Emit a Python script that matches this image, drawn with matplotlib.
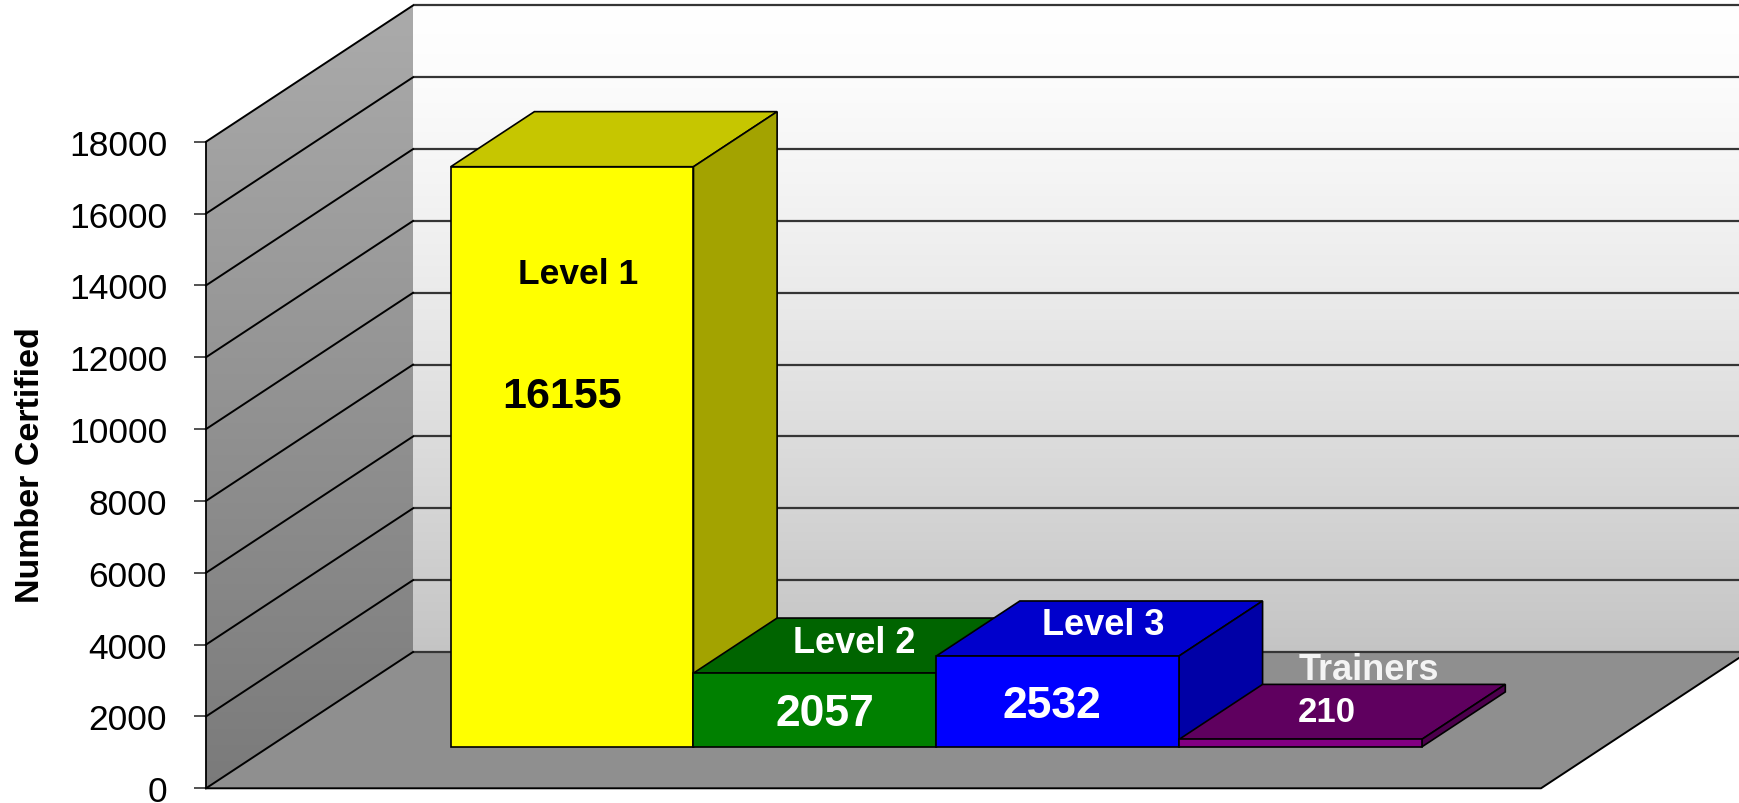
import numpy as np
import matplotlib
matplotlib.use("Agg")
import matplotlib.pyplot as plt
from matplotlib.patches import Polygon

plt.rcParams['font.family'] = ['Liberation Sans', 'DejaVu Sans']

# data
categories = ["Level 1", "Level 2", "Level 3", "Trainers"]
values = [16155, 2057, 2532, 210]
value_labels = ["16155", "2057", "2532", "210"]
yticks = list(range(0, 18001, 2000))

front_colors = ["#ffff00", "#008000", "#0000ff", "#820082"]
top_colors = ["#c6c600", "#006400", "#0000cc", "#5f005f"]
side_colors = ["#a3a300", "#004d00", "#0000a6", "#4c004c"]

# text anchors (x in category units, y in value units, baseline)
name_pos = [(0.2787, 14067), (0.4854, 3795), (0.6719, 4296), (0.8712, 3043)]
value_pos = [(0.2667, 10615), (0.4637, 1762), (0.6337, 1985), (0.8397, 1874)]
name_colors = ["black", "white", "white", "#f4f4f4"]
value_colors = ["black", "white", "white", "white"]
name_sizes = [25.5, 26, 26, 26]
value_sizes = [31, 32, 32, 25]

# projection of the fake 3d box (pixels of the 1739x804 canvas)
W, H = 1739, 804
X0_PX, PX_PER_X = 206, 1335.0
Y0_PX, PX_PER_V = 789.3, 71.84 / 2000
DX = 207 / PX_PER_X          # depth shift in x units
DV = 136.3 / PX_PER_V        # depth shift in value units
VMAX = 18000
d0, d1 = 0.303, 0.707        # bar depth range
gap = 1.5
bw = 1.0 / (len(values) + gap)

fig = plt.figure(figsize=(W / 100, H / 100), dpi=100)
ax = fig.add_axes([0, 0, 1, 1])
ax.set_facecolor("white")

# back wall with gradient
back = Polygon([(DX, DV), (1 + DX, DV), (1 + DX, VMAX + DV), (DX, VMAX + DV)],
               closed=True, facecolor="none", edgecolor="none", transform=ax.transData)
ax.add_patch(back)
t = np.linspace(0, 1, 256)[:, None]
top_c = np.array([1.0, 1.0, 1.0])
bot_c = np.array([0.77, 0.77, 0.77])
grad = (top_c * (1 - t ** 1.3) + bot_c * t ** 1.3)[:, None, :] * np.ones((1, 2, 1))
im = ax.imshow(grad, extent=[DX, 1 + DX, DV, VMAX + DV], origin="upper",
               aspect="auto", zorder=1, interpolation="bilinear")
im.set_clip_path(back)

# side wall with gradient
side = Polygon([(0, 0), (DX, DV), (DX, VMAX + DV), (0, VMAX)],
               closed=True, facecolor="none", edgecolor="none", transform=ax.transData)
ax.add_patch(side)
top_s = np.array([0.67, 0.67, 0.67])
bot_s = np.array([0.48, 0.48, 0.48])
grad_s = (top_s * (1 - t) + bot_s * t)[:, None, :] * np.ones((1, 2, 1))
im2 = ax.imshow(grad_s, extent=[0, DX, 0, VMAX + DV], origin="upper",
                aspect="auto", zorder=1, interpolation="bilinear")
im2.set_clip_path(side)

# floor
floor = Polygon([(0, 0), (1, 0), (1 + DX, DV), (DX, DV)], closed=True,
                facecolor="#8f8f8f", edgecolor="none", zorder=1.5)
ax.add_patch(floor)

# gridlines
for v in yticks:
    ax.plot([DX, 1 + DX], [v + DV, v + DV], color="#353535", lw=1.6, zorder=2,
            solid_capstyle="butt")
    ax.plot([0, DX], [v, v + DV], color="black", lw=1.4, zorder=2)
ax.plot([0, 1, 1 + DX], [0, 0, DV], color="black", lw=1.4, zorder=2)

# bars
for i, v in enumerate(values):
    x0 = gap / 2 * bw + i * bw
    x1 = x0 + bw
    fx0, fx1 = x0 + d0 * DX, x1 + d0 * DX
    bx0, bx1 = x0 + d1 * DX, x1 + d1 * DX
    fy, by = d0 * DV, d1 * DV
    z = 3 + i
    top = Polygon([(fx0, v + fy), (fx1, v + fy), (bx1, v + by), (bx0, v + by)],
                  closed=True, facecolor=top_colors[i], edgecolor="black", lw=1.2, zorder=z)
    sd = Polygon([(fx1, fy), (bx1, by), (bx1, v + by), (fx1, v + fy)],
                 closed=True, facecolor=side_colors[i], edgecolor="black", lw=1.2, zorder=z)
    fr = Polygon([(fx0, fy), (fx1, fy), (fx1, v + fy), (fx0, v + fy)],
                 closed=True, facecolor=front_colors[i], edgecolor="black", lw=1.2, zorder=z)
    for p in (top, sd, fr):
        ax.add_patch(p)

# labels
for i in range(len(values)):
    ax.text(name_pos[i][0], name_pos[i][1], categories[i], ha="center", va="baseline",
            fontsize=name_sizes[i], fontweight="bold", color=name_colors[i], zorder=20)
    ax.text(value_pos[i][0], value_pos[i][1], value_labels[i], ha="center", va="baseline",
            fontsize=value_sizes[i], fontweight="bold", color=value_colors[i], zorder=20)

# axes
ax.set_xlim(-X0_PX / PX_PER_X, (W - X0_PX) / PX_PER_X)
ax.set_ylim(-(H - Y0_PX) / PX_PER_V, Y0_PX / PX_PER_V)
for s in ("top", "right", "bottom"):
    ax.spines[s].set_visible(False)
ax.spines["left"].set_position(("data", 0))
ax.spines["left"].set_bounds(0, VMAX)
ax.spines["left"].set_linewidth(1.3)
ax.spines["left"].set_zorder(5)
ax.set_xticks([])
ax.set_yticks(yticks)
ax.set_yticklabels([str(v) for v in yticks])
ax.tick_params(axis="y", labelsize=25.5, length=8.6, width=1.2, pad=19.4, color="#333333")
ax.set_ylabel("Number Certified", fontsize=24.5, fontweight="bold", rotation=90,
              ha="center", va="center")
ax.yaxis.set_label_coords(30.5 / W, 1 - 465 / H)

fig.savefig("out.png", dpi=100)
